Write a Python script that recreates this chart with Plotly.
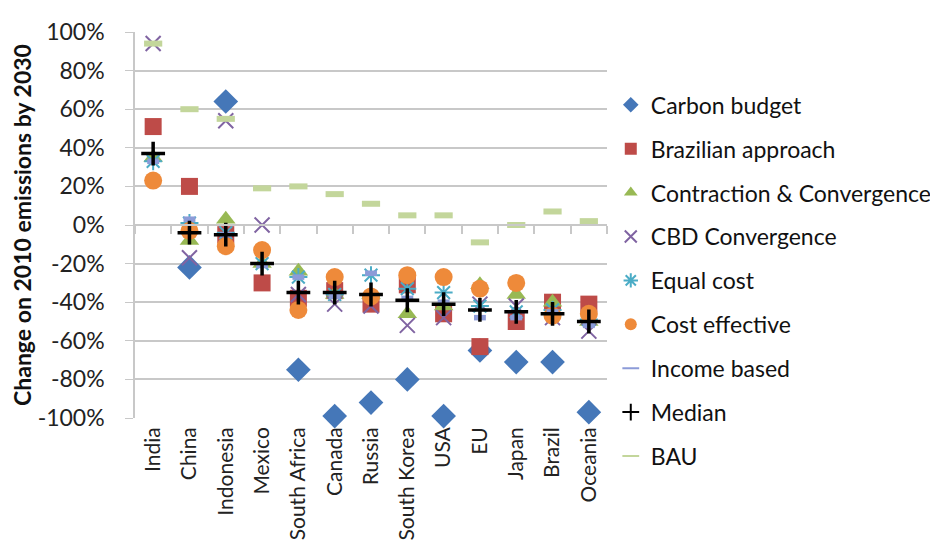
import plotly.graph_objects as go

categories = ["India", "China", "Indonesia", "Mexico", "South Africa", "Canada", "Russia",
              "South Korea", "USA", "EU", "Japan", "Brazil", "Oceania"]

carbon_budget = [None, -0.22, 0.64, None, -0.75, -0.99, -0.92, -0.80, -0.99, -0.65, -0.71, -0.71, -0.97]
brazilian_approach = [0.51, 0.20, -0.05, -0.30, -0.38, -0.34, -0.41, -0.31, -0.46, -0.63, -0.50, -0.40, -0.41]
contraction_convergence = [0.35, -0.08, 0.03, -0.20, -0.24, -0.36, -0.36, -0.46, -0.42, -0.31, -0.36, -0.40, -0.50]
cbd_convergence = [0.94, -0.17, 0.54, 0.0, -0.36, -0.41, -0.42, -0.52, -0.48, -0.41, -0.42, -0.48, -0.55]
equal_cost = [0.33, 0.01, -0.04, -0.20, -0.27, -0.36, -0.26, -0.33, -0.35, -0.42, -0.45, -0.44, -0.49]
cost_effective = [0.23, -0.03, -0.11, -0.13, -0.44, -0.27, -0.37, -0.26, -0.27, -0.33, -0.30, -0.47, -0.46]
income_based = [0.33, 0.03, -0.05, -0.21, -0.27, -0.37, -0.25, -0.38, -0.40, -0.48, -0.48, -0.45, -0.52]
median = [0.37, -0.04, -0.05, -0.20, -0.35, -0.35, -0.36, -0.39, -0.41, -0.44, -0.45, -0.46, -0.50]
bau = [0.94, 0.60, 0.55, 0.19, 0.20, 0.16, 0.11, 0.05, 0.05, -0.09, 0.0, 0.07, 0.02]

y_tick_values = [1.0, 0.8, 0.6, 0.4, 0.2, 0.0, -0.2, -0.4, -0.6, -0.8, -1.0]
y_tick_labels = ["100%", "80%", "60%", "40%", "20%", "0%", "-20%", "-40%", "-60%", "-80%", "-100%"]

FONT = "Lato"
FS = 23

series = [
    ("Carbon budget", carbon_budget, dict(symbol="diamond", size=19, color="#4577B8")),
    ("Brazilian approach", brazilian_approach, dict(symbol="square", size=17, color="#BE4B48")),
    ("Contraction & Convergence", contraction_convergence, dict(symbol="triangle-up", size=17, color="#98B954")),
    ("CBD Convergence", cbd_convergence, dict(symbol="x-thin-open", size=15, color="#8064A2", line=dict(width=2, color="#8064A2"))),
    ("Equal cost", equal_cost, dict(symbol="asterisk-open", size=15, color="#4BACC6", line=dict(width=2, color="#4BACC6"))),
    ("Cost effective", cost_effective, dict(symbol="circle", size=18, color="#EE8A3A")),
    ("Income based", income_based, dict(symbol="line-ew-open", size=8.5, color="#8C9BD8", line=dict(width=5.5, color="#8C9BD8"))),
    ("Median", median, dict(symbol="cross-thin-open", size=17, color="#000000", line=dict(width=3.5, color="#000000"))),
    ("BAU", bau, dict(symbol="line-ew-open", size=13, color="#C3D69B", line=dict(width=6, color="#C3D69B"))),
]

fig = go.Figure()
for i, (name, vals, mk) in enumerate(series):
    fig.add_trace(go.Scatter(x=categories, y=vals, mode="markers", name=name, marker=mk,
                             cliponaxis=False, legendgroup=f"g{i}"))

# dummy trace to activate the category tick axis crossing at 0
fig.add_trace(go.Scatter(x=categories, y=[None] * len(categories), xaxis="x2", mode="markers",
                         showlegend=False, hoverinfo="skip"))

grid = "#C8C8C8"
fig.update_layout(
    width=938, height=549,
    margin=dict(l=127, r=339, t=24, b=139, autoexpand=False),
    paper_bgcolor="white", plot_bgcolor="white",
    font=dict(family=FONT, size=FS, color="#222222"),
    showlegend=True,
    legend=dict(x=1.008, y=0.867, xanchor="left", yanchor="top", font=dict(size=FS, color="#111111"),
                itemsizing="constant", tracegroupgap=11, bgcolor="rgba(0,0,0,0)", maxheight=540),
    xaxis=dict(type="category", categoryorder="array", categoryarray=categories, range=[-0.5, 12.5],
               tickangle=-90, showgrid=False, zeroline=False, showline=False, ticks="",
               automargin=False, ticklabelstandoff=4, tickfont=dict(size=21, color="#222222")),
    xaxis2=dict(type="category", categoryorder="array", categoryarray=categories, range=[-0.5, 12.5],
                overlaying="x", anchor="free", position=0.5, side="bottom", showticklabels=False,
                ticks="outside", ticklen=8, tickcolor=grid, tickwidth=1.5, tickson="boundaries",
                automargin=False, showgrid=False, zeroline=False, showline=True, linecolor=grid, linewidth=1.5),
    yaxis=dict(range=[-1, 1], tickvals=y_tick_values, ticktext=y_tick_labels, showgrid=True,
               gridcolor=grid, gridwidth=1.5, zeroline=False, showline=True, linecolor=grid, linewidth=1.5,
               ticks="outside", ticklen=8, tickcolor=grid, tickfont=dict(size=FS, color="#222222"),
               ticklabelstandoff=16, automargin=False,
               title=dict(text="<b>Change on 2010 emissions by 2030</b>", font=dict(size=FS, color="#111111"),
                          standoff=3)),
)

fig.write_html("out.html")
